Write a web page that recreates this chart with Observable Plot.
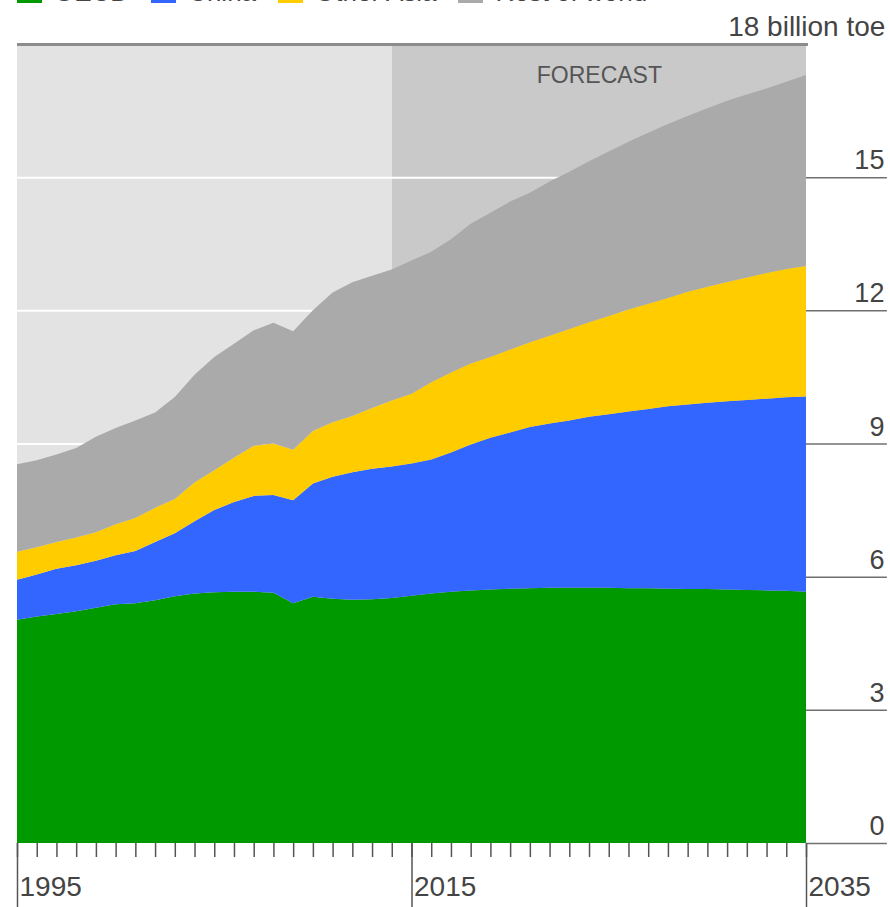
<!DOCTYPE html>
<html>
<head>
<meta charset="utf-8">
<script src="https://cdn.jsdelivr.net/npm/d3@7"></script>
<script src="https://cdn.jsdelivr.net/npm/@observablehq/plot@0.6"></script>
<style>
  html, body { margin: 0; padding: 0; background: #ffffff; overflow: hidden; }
  body { width: 890px; height: 907px; position: relative; font-family: "Liberation Sans", Arial, sans-serif; }
  #legend { position: absolute; top: -23px; left: 17px; display: flex; align-items: center; font-size: 26px; color: #444; white-space: nowrap; }
  #legend .item { display: flex; align-items: center; margin-right: 22px; }
  #legend .sw { width: 25px; height: 20px; margin-right: 12px; display: inline-block; }
  #chart { position: absolute; top: 0; left: 0; }
</style>
</head>
<body>
<div id="legend"></div>
<div id="chart"></div>
<script>
// ---- data (billion tonnes of oil equivalent) ----
const years = d3.range(1995, 2036);
const seriesNames = ["OECD", "China", "Other Asia", "Rest of world"];
const seriesColors = ["#009900", "#3366ff", "#ffcc00", "#aaaaaa"];
const oecd = [5.03,5.10,5.16,5.22,5.30,5.38,5.40,5.47,5.56,5.62,5.65,5.66,5.66,5.64,5.40,5.55,5.50,5.48,5.49,5.52,
              5.57,5.62,5.66,5.69,5.71,5.73,5.74,5.75,5.75,5.75,5.75,5.74,5.74,5.73,5.72,5.72,5.71,5.70,5.69,5.68,5.66];
const china = [0.90,0.95,1.02,1.04,1.06,1.10,1.18,1.31,1.42,1.63,1.85,2.02,2.16,2.20,2.32,2.55,2.75,2.87,2.94,2.96,
               2.98,3.02,3.14,3.29,3.42,3.52,3.63,3.70,3.77,3.85,3.91,3.98,4.04,4.11,4.16,4.20,4.24,4.28,4.32,4.36,4.40];
const otherAsia = [0.63,0.61,0.60,0.62,0.64,0.70,0.74,0.77,0.77,0.87,0.90,1.00,1.13,1.16,1.14,1.18,1.23,1.27,1.37,1.49,
                   1.57,1.74,1.80,1.82,1.82,1.87,1.91,1.98,2.06,2.13,2.21,2.30,2.37,2.44,2.54,2.61,2.69,2.76,2.83,2.89,2.94];
const restOfWorld = [1.97,1.96,1.97,2.02,2.15,2.17,2.20,2.15,2.30,2.43,2.55,2.57,2.60,2.72,2.67,2.72,2.92,3.01,2.98,2.95,
                     3.00,2.94,3.00,3.15,3.25,3.33,3.37,3.47,3.54,3.63,3.71,3.78,3.85,3.92,3.96,4.02,4.08,4.12,4.16,4.22,4.30];
const forecastStart = 2014;
const yTicks = [0, 3, 6, 9, 12, 15];
const yMax = 18;
const unitLabel = "18 billion toe";
const forecastLabel = "FORECAST";
const majorYears = [1995, 2015, 2035];

// ---- build tidy table ----
const seriesValues = [oecd, china, otherAsia, restOfWorld];
const table = [];
seriesNames.forEach((name, i) => {
  years.forEach((yr, j) => table.push({year: yr, series: name, value: seriesValues[i][j]}));
});

// ---- legend (mostly above the visible page, as in the reference) ----
const legend = document.getElementById("legend");
seriesNames.forEach((name, i) => {
  const it = document.createElement("span");
  it.className = "item";
  const sw = document.createElement("span");
  sw.className = "sw";
  sw.style.background = seriesColors[i];
  it.appendChild(sw);
  it.appendChild(document.createTextNode(name));
  legend.appendChild(it);
});

const x0 = years[0], x1 = years[years.length - 1];
const rightEdge = x1 + 4.1; // axis labels beyond the plot frame

const chart = Plot.plot({
  width: 890,
  height: 907,
  marginLeft: 17,
  marginRight: 84,
  marginTop: 44,
  marginBottom: 64,
  x: {domain: [x0, x1], axis: null},
  y: {domain: [0, yMax], axis: null},
  color: {domain: seriesNames, range: seriesColors},
  style: {fontFamily: "'Liberation Sans', Arial, sans-serif", background: "transparent", overflow: "visible"},
  marks: [
    // history / forecast panels
    Plot.rect([{a: x0, b: forecastStart}], {x1: "a", x2: "b", y1: 0, y2: yMax, fill: "#e3e3e3"}),
    Plot.rect([{a: forecastStart, b: x1}], {x1: "a", x2: "b", y1: 0, y2: yMax, fill: "#c9c9c9"}),
    // white gridlines behind the areas
    Plot.ruleY(yTicks.filter(d => d > 0), {x1: x0, x2: x1, stroke: "#ffffff", strokeWidth: 2}),
    // stacked areas
    Plot.areaY(table, {x: "year", y: "value", fill: "series", order: seriesNames, curve: "linear"}),
    // top line
    Plot.ruleY([yMax], {x1: x0, x2: x1 + 0.1, stroke: "#8c8c8c", strokeWidth: 3}),
    // right-hand gridlines and labels
    Plot.ruleY(yTicks, {x1: x1, x2: rightEdge, stroke: "#707070", strokeWidth: 1.5}),
    Plot.text(yTicks, {x: rightEdge - 0.15, y: d => d, dy: -17, text: d => String(d), textAnchor: "end", fontSize: 27, fill: "#444"}),
    Plot.text([yMax], {x: rightEdge - 0.1, y: d => d, dy: -17, text: () => unitLabel, textAnchor: "end", fontSize: 28, fill: "#444"}),
    // forecast label
    Plot.text([forecastLabel], {x: (forecastStart + x1) / 2, y: yMax, dy: 31, text: d => d, fontSize: 23, fill: "#555"}),
    // x axis ticks
    Plot.axisX({ticks: years, tickSize: 14, tickFormat: () => "", stroke: "#555", strokeWidth: 1.5}),
    Plot.axisX({ticks: majorYears, tickSize: 64, tickFormat: () => "", stroke: "#555", strokeWidth: 1.5}),
    Plot.text(majorYears, {x: d => d, y: 0, dy: 44, dx: 2, text: d => String(d), textAnchor: "start", fontSize: 28, fill: "#444"})
  ]
});
document.getElementById("chart").appendChild(chart);
</script>
</body>
</html>
